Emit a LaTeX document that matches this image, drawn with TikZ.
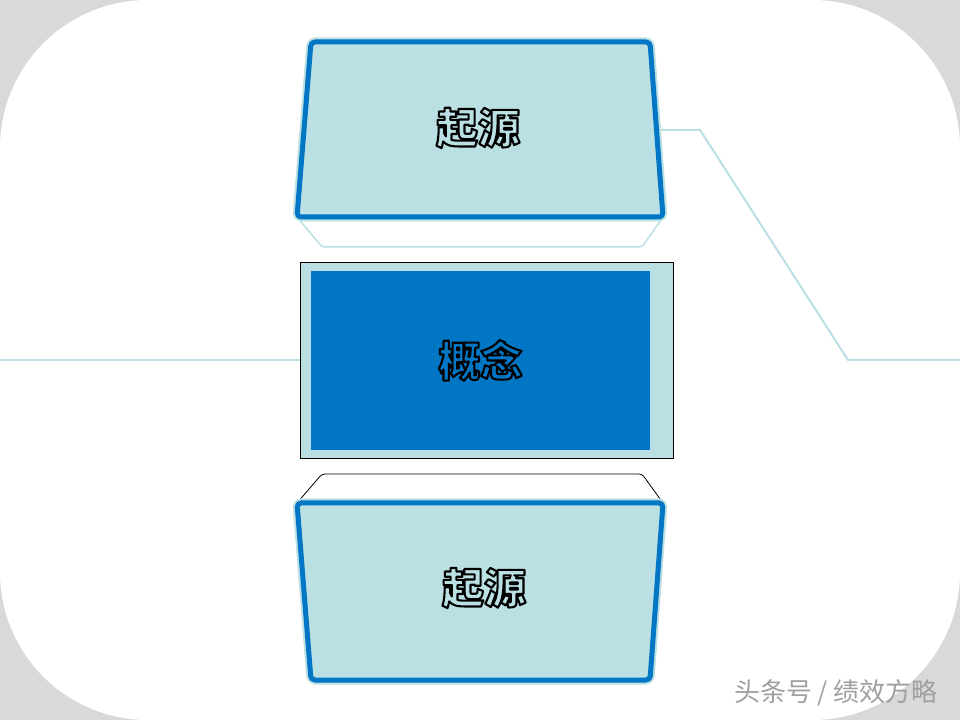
\documentclass[tikz,border=0pt]{standalone}
\usepackage{fontspec}
\usetikzlibrary{positioning}
\newfontfamily\cjk{Noto Sans CJK SC}
\definecolor{deepblue}{RGB}{0,118,196}
\definecolor{paleblue}{RGB}{187,224,228}
\definecolor{bggray}{RGB}{217,217,217}
\definecolor{markgray}{RGB}{160,160,160}
% outlined text: fill in #1, black stroke round the glyphs
\newcommand{\bubble}[2]{\special{pdf:code q}\textcolor{#1}{\special{pdf:code 2 Tr 2.1 w 1 j 0 0 0 RG}#2}\special{pdf:code Q}}

\begin{document}
\begin{tikzpicture}[
			x=1pt, y=1pt,
			topic/.style={font=\cjk\bfseries\fontsize{42}{42}\selectfont, inner sep=0pt},
			face/.style={fill=paleblue, draw=deepblue, line width=5pt, rounded corners=4pt, line join=round},
			glow/.style={draw=paleblue, line width=9pt, rounded corners=4pt, line join=round},
			bevel/.style={fill=white, rounded corners=3pt},
			link/.style={draw=paleblue, line width=2pt},
			frame/.style={rectangle, draw=black, line width=0.8pt, fill=paleblue, minimum width=373pt, minimum height=196pt, inner sep=0pt},
			core/.style={rectangle, fill=deepblue, minimum width=339pt, minimum height=179pt, inner sep=0pt, font=\cjk\bfseries\fontsize{42}{42}\selectfont},
			stamp/.style={font=\cjk\fontsize{26}{26}\selectfont, text=markgray, inner sep=0pt}
			]
			\useasboundingbox (0,0) rectangle (960,720);
			
			% Background card
			\fill[bggray] (0,0) rectangle (960,720);
			\fill[white, rounded corners=148pt] (0,360) -- (0,720) -- (960,720) -- (960,0) -- (0,0) -- cycle;
			
			% Anchor points of the connectors
			\coordinate (leftend) at (0,360);
			\coordinate (rightend) at (960,360);
			\coordinate (originR) at (657,590);
			\coordinate (kneeA) at (700,590);
			\coordinate (kneeB) at (848,360);
			
			% Middle block
			\node[frame] (frame) at (486.5,360) {};
			\node[core] (concept) at (480.5,359.5) {\raisebox{-2pt}{\bubble{deepblue}{概念}}};
			
			% Connectors
			\draw[link] (leftend) -- (frame.west);
			\draw[link] (originR) -- (kneeA) -- (kneeB) -- (rightend);
			
			% Top block
			\draw[bevel, draw=paleblue, line width=1.5pt] (297,503) -- (322,473) -- (642,473) -- (663,503);
			\draw[glow] (311,678) -- (650,678) -- (663,503) -- (297,503) -- cycle;
			\draw[face] (311,678) -- (650,678) -- (663,503) -- (297,503) -- cycle;
			\node[topic] (origintop) at (478,592) {\bubble{paleblue}{起源}};
			
			% Bottom block
			\draw[bevel, draw=black, line width=0.8pt] (297,217) -- (322,246) -- (642,246) -- (663,217) -- cycle;
			\draw[glow] (297,217) -- (663,217) -- (650,40) -- (311,40) -- cycle;
			\draw[face] (297,217) -- (663,217) -- (650,40) -- (311,40) -- cycle;
			\node[topic] (originbottom) at (484,132) {\bubble{paleblue}{起源}};
			
			% Watermark
			\node[stamp] (watermark) at (836,27) {头条号 / 绩效方略};
			
		\end{tikzpicture}
\end{document}
